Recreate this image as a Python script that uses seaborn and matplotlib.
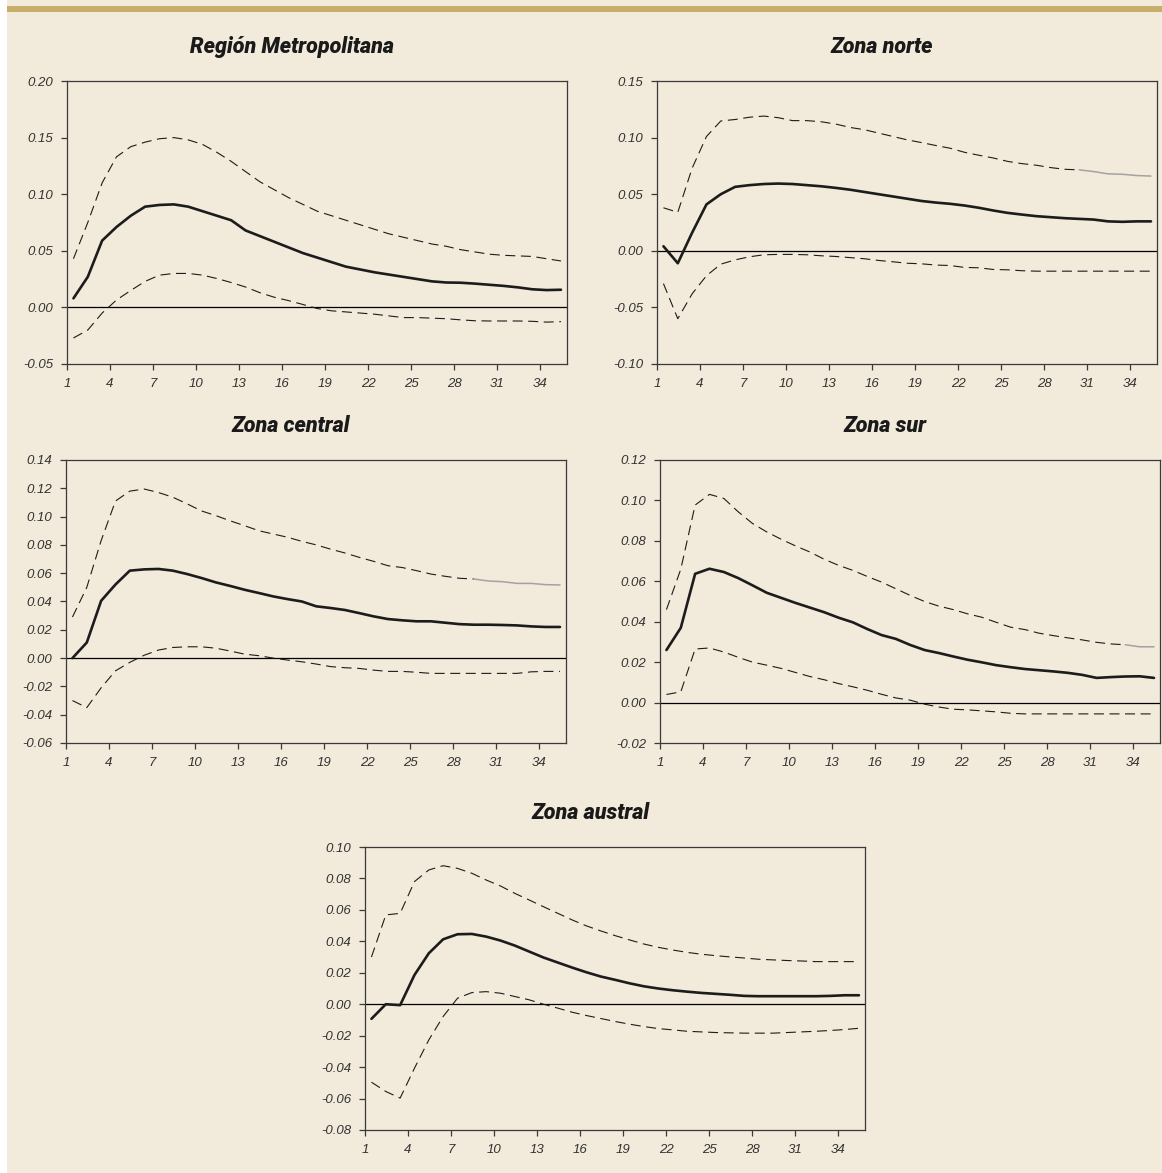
import numpy as np
import seaborn as sns
import matplotlib.pyplot as plt
from matplotlib.patches import Rectangle

# ── Data (impulse responses, 35 periods) ──────────────────────────────
periods = np.arange(1, 36)
tick_labels = [str(t) for t in range(1, 35, 3)]

titles = ["Región Metropolitana", "Zona norte", "Zona central", "Zona sur", "Zona austral"]

rm_mid = [0.008, 0.027, 0.059, 0.071, 0.081, 0.089, 0.0905, 0.091, 0.089, 0.085,
          0.081, 0.077, 0.068, 0.063, 0.058, 0.053, 0.048, 0.044, 0.040, 0.036,
          0.0335, 0.031, 0.029, 0.027, 0.025, 0.023, 0.022, 0.0218, 0.021, 0.020,
          0.019, 0.0177, 0.016, 0.0153, 0.0156]
rm_up = [0.043, 0.075, 0.110, 0.133, 0.142, 0.146, 0.149, 0.150, 0.148, 0.144,
         0.137, 0.129, 0.120, 0.111, 0.104, 0.097, 0.091, 0.085, 0.081, 0.077,
         0.073, 0.069, 0.065, 0.062, 0.059, 0.056, 0.054, 0.051, 0.049, 0.047,
         0.046, 0.0455, 0.045, 0.043, 0.041]
rm_lo = [-0.027, -0.020, -0.005, 0.0065, 0.015, 0.023, 0.0285, 0.030, 0.030, 0.0285,
         0.0255, 0.022, 0.018, 0.013, 0.009, 0.006, 0.0026, -0.001, -0.003, -0.004,
         -0.005, -0.006, -0.0075, -0.009, -0.009, -0.0095, -0.010, -0.011, -0.0118, -0.012,
         -0.012, -0.012, -0.0123, -0.013, -0.0126]

no_mid = [0.004, -0.011, 0.016, 0.041, 0.050, 0.0565, 0.058, 0.059, 0.0594, 0.059,
          0.058, 0.057, 0.0556, 0.054, 0.052, 0.050, 0.048, 0.046, 0.044, 0.0426,
          0.0415, 0.040, 0.038, 0.0356, 0.0335, 0.032, 0.0306, 0.0297, 0.0288, 0.0282,
          0.0276, 0.026, 0.0256, 0.026, 0.026]
no_up = [0.038, 0.034, 0.073, 0.101, 0.1147, 0.116, 0.118, 0.119, 0.1176, 0.115,
         0.115, 0.114, 0.112, 0.109, 0.107, 0.104, 0.101, 0.098, 0.0956, 0.093,
         0.0906, 0.087, 0.0844, 0.082, 0.079, 0.077, 0.0756, 0.0735, 0.072, 0.0715,
         0.070, 0.068, 0.0676, 0.0665, 0.066]
no_lo = [-0.029, -0.060, -0.038, -0.022, -0.0118, -0.008, -0.0053, -0.0035, -0.0032, -0.0032,
         -0.0035, -0.0044, -0.005, -0.006, -0.007, -0.0085, -0.0097, -0.011, -0.0115, -0.0126,
         -0.013, -0.0147, -0.015, -0.0165, -0.0168, -0.0176, -0.018, -0.018, -0.018, -0.018,
         -0.018, -0.018, -0.018, -0.018, -0.018]

ce_mid = [0.000, 0.011, 0.0405, 0.052, 0.0618, 0.0627, 0.063, 0.0618, 0.0594, 0.0566,
          0.0535, 0.051, 0.0483, 0.046, 0.0436, 0.0417, 0.040, 0.0366, 0.0354, 0.034,
          0.0318, 0.0295, 0.0276, 0.0267, 0.026, 0.026, 0.025, 0.024, 0.0236, 0.0236,
          0.0234, 0.0231, 0.0224, 0.022, 0.022]
ce_up = [0.029, 0.050, 0.083, 0.111, 0.118, 0.1195, 0.117, 0.1137, 0.109, 0.104,
         0.1007, 0.097, 0.0936, 0.090, 0.0877, 0.0854, 0.0825, 0.080, 0.077, 0.0743,
         0.0712, 0.0684, 0.0653, 0.064, 0.0618, 0.0594, 0.0578, 0.0564, 0.0559, 0.0545,
         0.054, 0.0528, 0.0528, 0.0519, 0.0517]
ce_lo = [-0.030, -0.035, -0.021, -0.009, -0.003, 0.002, 0.0057, 0.0075, 0.008, 0.008,
         0.007, 0.005, 0.0028, 0.0017, 0.000, -0.0014, -0.0026, -0.0042, -0.006, -0.0068,
         -0.0073, -0.0085, -0.0094, -0.0094, -0.010, -0.0108, -0.0108, -0.0108, -0.0108, -0.0108,
         -0.0108, -0.0108, -0.0097, -0.0094, -0.0094]

su_mid = [0.026, 0.037, 0.0637, 0.0662, 0.0646, 0.0616, 0.058, 0.0543, 0.0518, 0.0493,
          0.047, 0.0447, 0.042, 0.0397, 0.0364, 0.0334, 0.0315, 0.0285, 0.026, 0.0245,
          0.0228, 0.0212, 0.0199, 0.0185, 0.0175, 0.0166, 0.016, 0.0154, 0.0147, 0.0137,
          0.0122, 0.0126, 0.0129, 0.013, 0.0122]
su_up = [0.046, 0.066, 0.0977, 0.103, 0.101, 0.0944, 0.0886, 0.0844, 0.0808, 0.0775,
         0.0745, 0.0709, 0.0679, 0.0654, 0.0624, 0.0596, 0.0563, 0.053, 0.050, 0.0477,
         0.046, 0.0439, 0.0422, 0.0397, 0.0373, 0.0361, 0.0343, 0.0331, 0.032, 0.031,
         0.0298, 0.029, 0.0286, 0.0276, 0.0276]
su_lo = [0.004, 0.0053, 0.0265, 0.027, 0.025, 0.0224, 0.020, 0.0185, 0.0169, 0.0149,
         0.0129, 0.0113, 0.0094, 0.0078, 0.0061, 0.0041, 0.0023, 0.0012, -0.0008, -0.0022,
         -0.0033, -0.0036, -0.0041, -0.0046, -0.0053, -0.0056, -0.0056, -0.0056, -0.0056, -0.0056,
         -0.0056, -0.0056, -0.0056, -0.0056, -0.0056]

au_mid = [-0.0093, 0.000, -0.0006, 0.0186, 0.0324, 0.0413, 0.0445, 0.0447, 0.043, 0.0405,
          0.0373, 0.0335, 0.0297, 0.0265, 0.0233, 0.0203, 0.0176, 0.0155, 0.0133, 0.0114,
          0.010, 0.0089, 0.008, 0.0072, 0.0066, 0.006, 0.0053, 0.0051, 0.0051, 0.0051,
          0.0051, 0.0051, 0.0053, 0.0057, 0.0057]
au_up = [0.030, 0.0568, 0.0578, 0.078, 0.0854, 0.0881, 0.0864, 0.0833, 0.079, 0.0752,
         0.0705, 0.0663, 0.062, 0.0578, 0.0536, 0.0498, 0.0466, 0.0436, 0.0409, 0.0383,
         0.0362, 0.0345, 0.033, 0.0318, 0.0309, 0.0301, 0.0294, 0.0286, 0.0282, 0.0278,
         0.0275, 0.0271, 0.0271, 0.0271, 0.0271]
au_lo = [-0.0496, -0.0555, -0.0597, -0.0407, -0.0227, -0.0078, 0.0038, 0.0074, 0.008, 0.007,
         0.0049, 0.0028, 0.000, -0.0025, -0.0051, -0.0072, -0.0091, -0.011, -0.0127, -0.0142,
         -0.0155, -0.0163, -0.0172, -0.0176, -0.018, -0.0182, -0.0184, -0.0184, -0.0184, -0.018,
         -0.0176, -0.0172, -0.0167, -0.0161, -0.0153]

# y-axis ranges / steps per panel
y_ranges = [(-0.05, 0.20, 0.05), (-0.10, 0.15, 0.05), (-0.06, 0.14, 0.02),
            (-0.02, 0.12, 0.02), (-0.08, 0.10, 0.02)]
# period (1-based) from which the upper band is drawn in light grey (None = never)
grey_from = [None, 30, 29, 33, None]

series = [(rm_mid, rm_up, rm_lo), (no_mid, no_up, no_lo), (ce_mid, ce_up, ce_lo),
          (su_mid, su_up, su_lo), (au_mid, au_up, au_lo)]

# ── Layout (pixels in a 1162 x 1173 canvas) ───────────────────────────
W, H = 1162, 1173
boxes = [(67, 81), (657, 81), (66, 460), (660, 460), (365, 847)]  # left, top
BOX_W, BOX_H = 500, 283

BG = "#F2EADA"
GOLD = "#C8AE6C"
INK = "#1c1c1c"
TICK_FONT = ["Liberation Sans", "DejaVu Sans"]
TITLE_FONT = ["Roboto", "Liberation Sans", "DejaVu Sans"]

sns.set_style("ticks")
plt.rcParams["font.family"] = TICK_FONT

fig = plt.figure(figsize=(W / 100, H / 100), dpi=100, facecolor=BG)
fig.patches.append(Rectangle((0, 0), 7 / W, 1, transform=fig.transFigure,
                             facecolor="white", edgecolor="none", zorder=0))
fig.patches.append(Rectangle((7 / W, 1 - 12 / H), 1 - 7 / W, 6 / H, transform=fig.transFigure,
                             facecolor=GOLD, edgecolor="none", zorder=0))

OFFSET = 0.45  # data points sit slightly right of their tick

for k, (title, (mid, up, lo), (y0, y1, step)) in enumerate(zip(titles, series, y_ranges)):
    left, top = boxes[k]
    ax = fig.add_axes([left / W, 1 - (top + BOX_H) / H, BOX_W / W, BOX_H / H])
    ax.set_facecolor(BG)

    ax.axhline(0, color="black", lw=0.9, zorder=1)

    g = grey_from[k]
    if g is None:
        sns.lineplot(x=periods, y=up, ax=ax, color=INK, lw=0.8, linestyle=(0, (9, 5)))
    else:
        sns.lineplot(x=periods[:g], y=up[:g], ax=ax, color=INK, lw=0.8, linestyle=(0, (9, 5)))
        sns.lineplot(x=periods[g - 1:], y=up[g - 1:], ax=ax, color="#a3a3a3", lw=1.1)
    sns.lineplot(x=periods, y=lo, ax=ax, color=INK, lw=0.8, linestyle=(0, (9, 5)))
    sns.lineplot(x=periods, y=mid, ax=ax, color=INK, lw=1.9)

    ax.set_xlim(1 - OFFSET, 35.42)
    ax.set_xticks(np.arange(1, 35, 3) - OFFSET)
    ax.set_xticklabels(tick_labels)
    ax.set_ylim(y0, y1)
    yt = np.round(np.arange(y0, y1 + step / 2, step), 2)
    ax.set_yticks(yt)
    ax.set_yticklabels([f"{v:.2f}" for v in yt])

    for s in ax.spines.values():
        s.set_visible(True)
        s.set_color("#3a3a3a")
        s.set_linewidth(0.9)
    ax.tick_params(axis="both", direction="out", length=4.3, width=0.9, color="#3a3a3a",
                   pad=5.5, labelsize=9.5, labelcolor="#333333")
    for lab in ax.get_xticklabels() + ax.get_yticklabels():
        lab.set_fontstyle("italic")
        lab.set_family(TICK_FONT)

    ax.set_xlabel("")
    ax.set_ylabel("")
    ax.set_title(title, x=0.45, pad=20, fontsize=15.5, fontweight="black", fontstyle="italic",
                 family=TITLE_FONT, color="#1a1a1a")

fig.savefig("out.png", dpi=100, facecolor=BG)
